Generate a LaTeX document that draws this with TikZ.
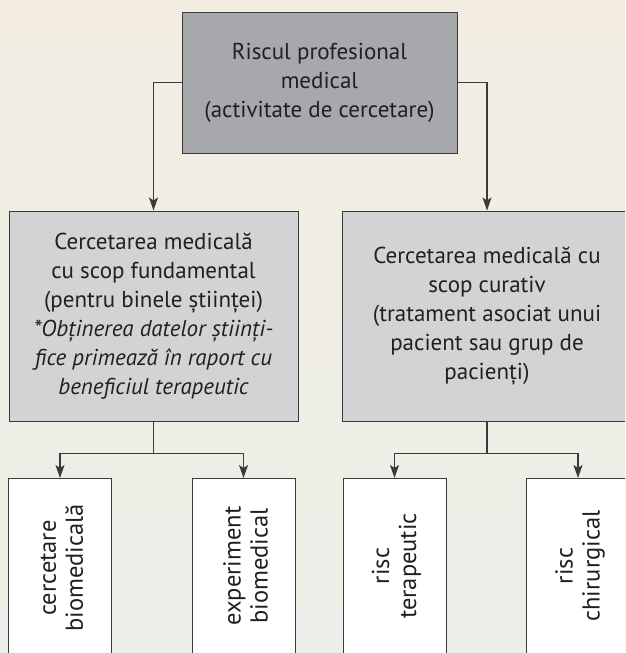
\documentclass[tikz,border=0pt]{standalone}
\usepackage{fontspec}
\setmainfont{PT Sans}
\usetikzlibrary{arrows.meta,calc}
\definecolor{bgtop}{HTML}{F4EEE2}
\definecolor{bgbot}{HTML}{ECEEE9}
\definecolor{topfill}{HTML}{A7A8AB}
\definecolor{midfill}{HTML}{D1D3D4}
\definecolor{linec}{HTML}{3A3A3A}
\definecolor{txt}{HTML}{231F20}
\tikzset{
  box/.style={draw=linec, line width=1pt, text=txt, align=center, inner sep=0pt,
    font=\fontsize{23}{29}\selectfont},
  topbox/.style={box, fill=topfill, minimum width=275pt, minimum height=141pt},
  midbox/.style={box, fill=midfill, minimum width=289pt, minimum height=210pt},
  leafbox/.style={draw=linec, line width=1pt, fill=white, minimum width=103pt, minimum height=230pt, anchor=north, inner sep=0pt},
  leaftext/.style={text=txt, align=center, rotate=90, inner sep=0pt, font=\fontsize{24.5}{27}\selectfont},
  conn/.style={draw=linec, line width=1.3pt},
  arr/.style={conn, -{Stealth[length=13pt,width=9pt,inset=3pt]}}
}
\begin{document}
\begin{tikzpicture}[x=1pt,y=-1pt]
\useasboundingbox (0,0) rectangle (625,653);
\shade[top color=bgtop, bottom color=bgbot] (0,0) rectangle (625,653);
\clip (0,0) rectangle (625,653);
\node[topbox] (top) at (319.5,82.5) {Riscul profesional\\medical\\(activitate de cercetare)};
\node[midbox] (left) at (153.5,316) {Cercetarea medicală\\cu scop fundamental\\(pentru binele științei)\\\itshape *Obținerea datelor științi-\\\itshape fice primează în raport cu\\\itshape beneficiul terapeutic};
\node[midbox] (right) at (487,316) {Cercetarea medicală cu\\scop curativ\\(tratament asociat unui\\pacient sau grup de\\pacienți)};
\node[leafbox] (b1) at (60,478) {};
\node[leafbox] (b2) at (243.5,478) {};
\node[leafbox] (b3) at (394.5,478) {};
\node[leafbox] (b4) at (578,478) {};
\node[leaftext] (t1) at (62,568) {cercetare\\biomedicală};
\node[leaftext] (t2) at (245.5,566) {experiment\\biomedical};
\node[leaftext] (t3) at (396.5,566) {risc\\terapeutic};
\node[leaftext] (t4) at (580,566) {risc\\chirurgical};
\draw[arr] (top.west) -| (left.north);
\draw[arr] (top.east) -| (right.north);
\coordinate (lj) at ($(left.south)+(0,32)$);
\coordinate (rj) at ($(right.south)+(0,32)$);
\draw[conn] (left.south) -- (lj);
\draw[conn] (right.south) -- (rj);
\draw[arr] (lj) -| (b1.north);
\draw[arr] (lj) -| (b2.north);
\draw[arr] (rj) -| (b3.north);
\draw[arr] (rj) -| (b4.north);
\end{tikzpicture}
\end{document}
